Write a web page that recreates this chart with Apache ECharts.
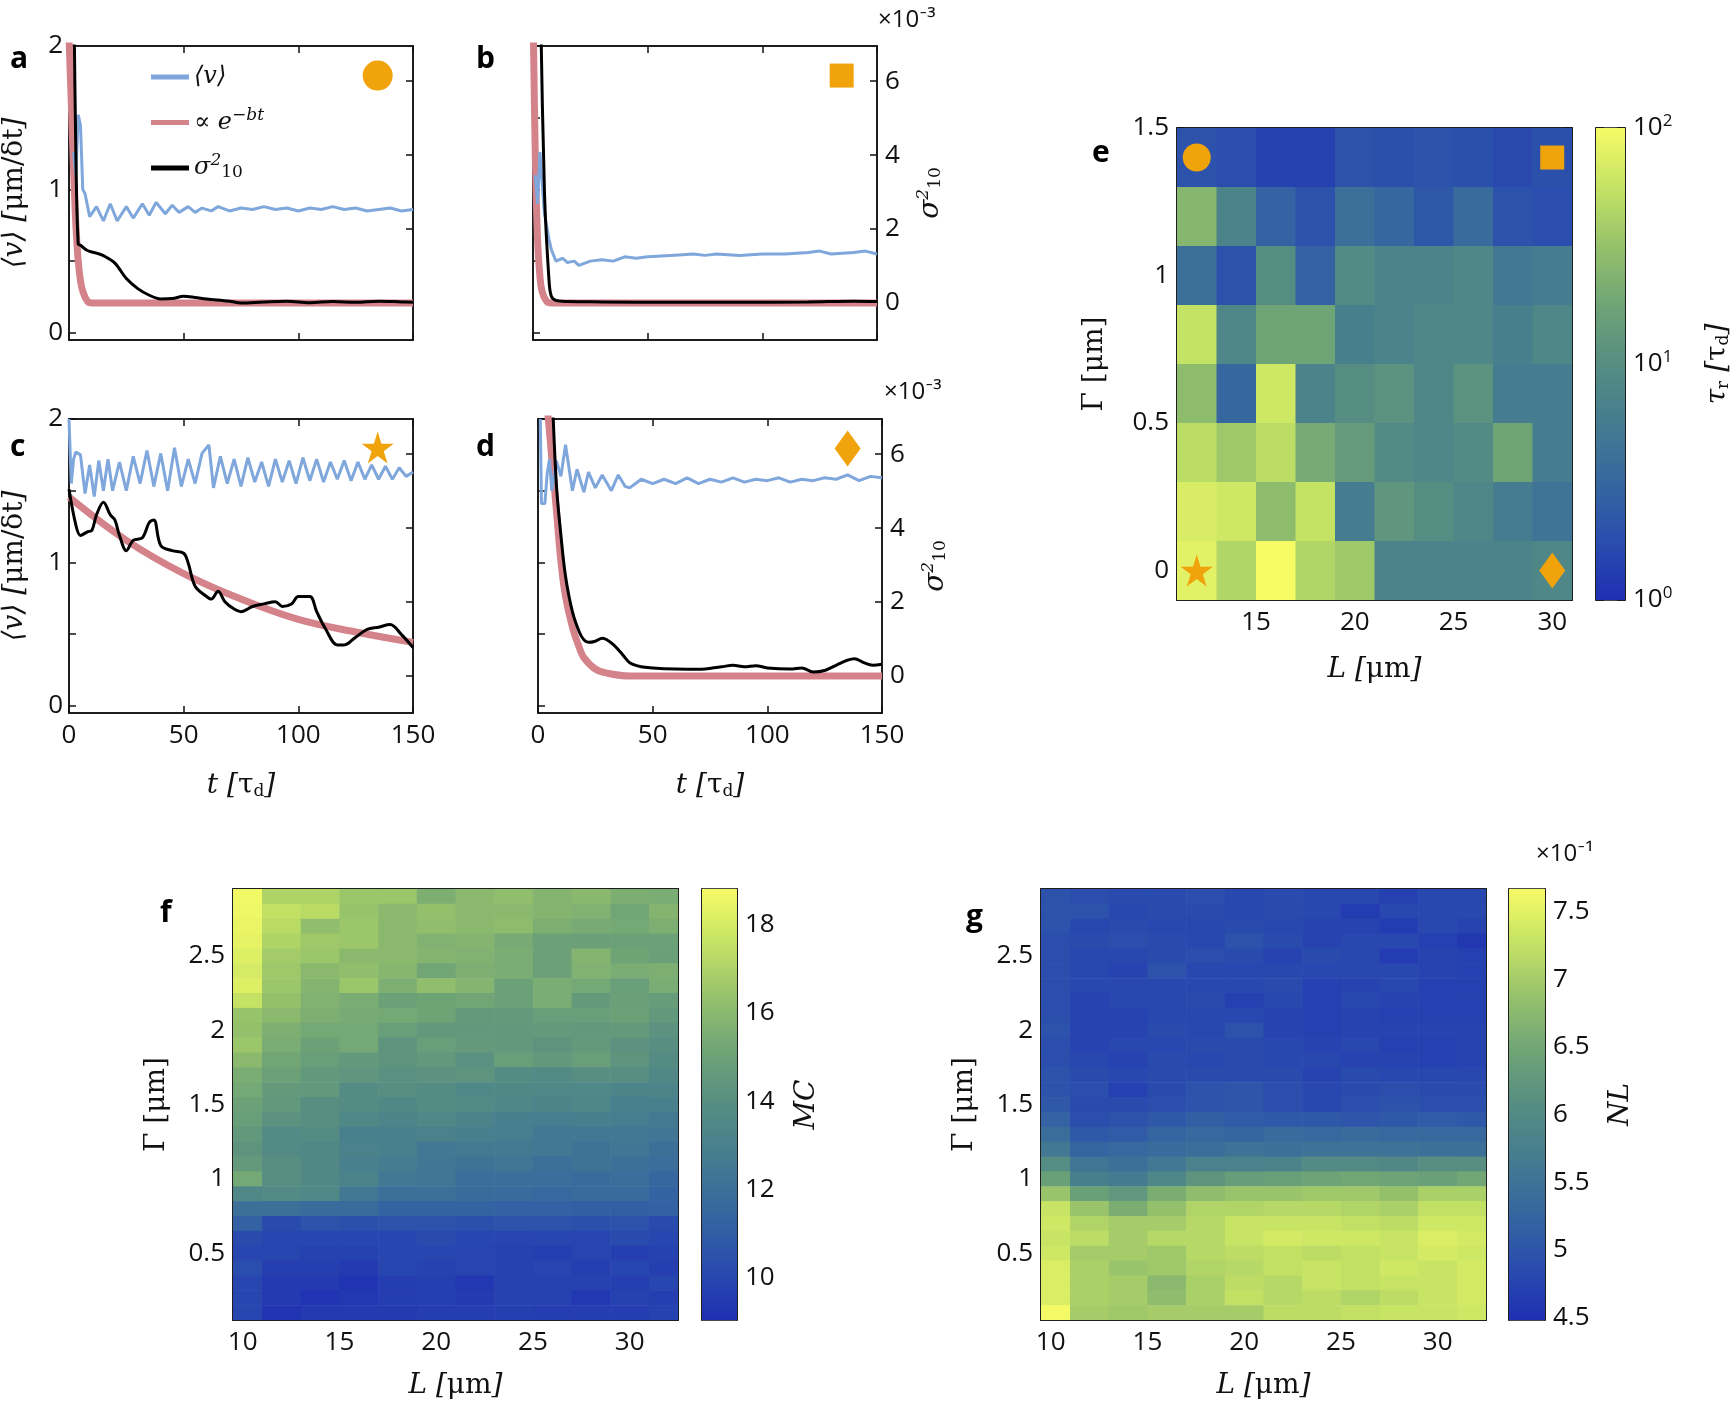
<!DOCTYPE html>
<html><head><meta charset="utf-8">
<script src="https://cdn.jsdelivr.net/npm/echarts@6/dist/echarts.min.js"></script>
<style>html,body{margin:0;padding:0;background:#fff}#c{width:1733px;height:1402px}</style>
</head><body><div id="c"></div>
<script>
// ---------- DATA ----------
const blueA=[[2,1.26],[3,1.1],[4,1.52],[5,1.45],[6,1.0],[7,0.97],[9,0.81],[12,0.88],[15,0.78],[18,0.9],[21,0.78],[25,0.88],[28,0.8],[32,0.9],[35,0.82],[38,0.91],[42,0.83],[45,0.89],[48,0.84],[52,0.88],[55,0.84],[58,0.87],[62,0.85],[65,0.88],[70,0.85],[75,0.87],[80,0.86],[85,0.88],[90,0.86],[95,0.87],[100,0.85],[105,0.87],[110,0.86],[115,0.88],[120,0.86],[125,0.87],[130,0.85],[135,0.86],[140,0.87],[145,0.85],[150,0.86]];
const blackA=[[2,9],[3,4],[4,1.6],[5,1.56],[8,1.42],[12,1.35],[15,1.28],[20,1.08],[25,0.66],[30,0.39],[35,0.21],[40,0.11],[45,0.12],[50,0.18],[55,0.15],[60,0.11],[70,0.05],[75,0.0],[85,0.03],[95,0.05],[105,0.01],[115,0.04],[125,0.02],[135,0.05],[145,0.03],[150,0.02]];
const pinkA=[[0,7.2],[1,5.4],[2,3.6],[3,2.1],[4,1.15],[5,0.6],[6,0.32],[8,0.05],[10,0],[150,0]];
const blueB=[[1,1.1],[2,0.9],[3,1.26],[5,0.83],[7,0.65],[8,0.58],[10,0.5],[13,0.52],[15,0.49],[18,0.5],[20,0.47],[25,0.5],[30,0.51],[35,0.5],[40,0.53],[45,0.52],[50,0.53],[60,0.54],[70,0.55],[75,0.54],[80,0.55],[90,0.54],[100,0.55],[110,0.55],[120,0.56],[125,0.57],[130,0.55],[140,0.56],[145,0.57],[150,0.55]];
const blackB=[[3,9],[5,3],[7,0.6],[8,0.18],[10,0.07],[15,0.04],[30,0.03],[60,0.02],[90,0.02],[120,0.03],[140,0.05],[150,0.04]];
const pinkB=[[0,8],[1,4.0],[2,1.7],[3,0.73],[4,0.3],[6,0.04],[8,0],[150,0]];
const blueC=[[0,2.0],[1,1.55],[2,1.72],[3,1.77],[5,1.75],[7,1.48],[9,1.68],[11,1.46],[13,1.71],[15,1.5],[17,1.72],[19,1.5],[22,1.7],[25,1.5],[28,1.74],[31,1.55],[34,1.78],[37,1.53],[40,1.76],[43,1.5],[46,1.8],[49,1.53],[52,1.72],[55,1.55],[58,1.76],[61,1.82],[63,1.52],[66,1.74],[69,1.55],[72,1.72],[75,1.53],[78,1.73],[81,1.56],[84,1.7],[87,1.53],[90,1.72],[93,1.56],[96,1.71],[99,1.55],[102,1.73],[105,1.57],[108,1.72],[111,1.56],[114,1.7],[117,1.58],[120,1.71],[123,1.57],[126,1.7],[129,1.58],[132,1.68],[135,1.58],[138,1.67],[141,1.58],[144,1.66],[147,1.6],[150,1.63]];
const blackC=[[0,5.05],[3,4.08],[5,3.8],[8,3.9],[10,3.94],[12,4.36],[15,4.7],[18,4.36],[20,4.22],[22,3.8],[25,3.39],[28,3.67],[32,3.74],[35,4.15],[37,4.22],[40,3.53],[45,3.39],[50,3.32],[52,3.05],[55,2.43],[60,2.15],[62,2.08],[65,2.29],[68,2.01],[72,1.81],[75,1.74],[80,1.88],[85,1.95],[90,2.01],[93,1.88],[97,1.95],[100,2.15],[105,2.15],[108,1.74],[112,1.26],[117,0.84],[120,0.84],[125,1.05],[130,1.26],[135,1.32],[140,1.39],[145,1.12],[150,0.77]];
const pinkC=[[0,4.84],[25,3.67],[50,2.77],[75,2.08],[100,1.53],[125,1.19],[150,0.91]];
const blueD=[[1,2.0],[1.5,1.41],[3,1.41],[4,1.62],[5,1.72],[6,1.5],[8,1.71],[10,1.6],[12,1.82],[15,1.5],[17,1.65],[20,1.49],[22,1.63],[25,1.52],[28,1.61],[32,1.5],[35,1.61],[38,1.53],[40,1.52],[45,1.58],[50,1.55],[55,1.58],[60,1.55],[65,1.59],[70,1.55],[75,1.58],[80,1.56],[85,1.59],[90,1.56],[95,1.58],[100,1.57],[105,1.59],[110,1.56],[115,1.58],[120,1.57],[125,1.59],[130,1.58],[135,1.61],[140,1.57],[145,1.6],[150,1.59]];
const blackD=[[6,8],[8,5.19],[10,3.8],[12,2.7],[15,1.74],[18,1.19],[20,0.98],[22,0.91],[25,0.94],[28,1.02],[30,0.98],[33,0.84],[37,0.57],[40,0.36],[45,0.25],[50,0.22],[60,0.19],[70,0.18],[80,0.25],[85,0.29],[90,0.25],[95,0.28],[100,0.22],[110,0.19],[115,0.22],[120,0.11],[125,0.15],[130,0.29],[135,0.43],[138,0.47],[142,0.36],[146,0.29],[150,0.32]];
const pinkD=[[3,8],[5,6.6],[8,4.5],[10,3.1],[12,2.15],[15,1.32],[18,0.77],[20,0.5],[25,0.19],[30,0.08],[40,0],[150,0]];
const markA=[[134.6,6.15]], markB=[[134.6,6.15]], markC=[[134.6,6.18]], markD=[[135,6.15]];
const tTicks=[0,50,100,150], vTicks=[0,1,2], vMinor=[0,0.5,1,1.5,2], sTicks=[0,2,4,6];

// panel e: tau_r (log10) per row, rows Gamma 1.4 .. 0.0, columns L 12..30
const eL=[12,14,16,18,20,22,24,26,28,30];
const eG=[1.4,1.2,1.0,0.8,0.6,0.4,0.2,0.0];
const eVals=[
[0.3,0.25,0.15,0.15,0.3,0.28,0.3,0.28,0.22,0.28],
[1.4,0.85,0.45,0.3,0.6,0.5,0.35,0.55,0.3,0.25],
[0.6,0.3,1.0,0.45,0.95,0.85,0.85,0.9,0.7,0.75],
[1.75,0.9,1.25,1.25,0.8,0.85,0.9,0.9,0.8,0.9],
[1.45,0.5,1.8,0.85,1.0,1.05,0.9,1.05,0.75,0.75],
[1.7,1.55,1.7,1.3,1.15,0.95,0.9,0.95,1.25,0.75],
[1.85,1.8,1.45,1.75,0.75,1.1,1.0,0.9,0.75,0.65],
[1.9,1.65,2.0,1.65,1.55,0.85,0.85,0.85,0.85,0.9]];
const eMarks=[[12,1.4],[30,1.4],[12,0],[30,0]];

// panels f,g: rows Gamma 2.9 .. 0.1, columns L 10..32
const fgL=[10,12,14,16,18,20,22,24,26,28,30,32];
const fgG=[2.9,2.8,2.7,2.6,2.5,2.4,2.3,2.2,2.1,2.0,1.9,1.8,1.7,1.6,1.5,1.4,1.3,1.2,1.1,1.0,0.9,0.8,0.7,0.6,0.5,0.4,0.3,0.2,0.1];
const fVals=[
[18.7,17,17,16.5,16.5,15.6,16,16.2,15.8,16,15.6,15.5],
[18.6,17.5,17.3,16.4,16.0,16.3,16.0,16.0,15.8,15.7,15.2,15.8],
[18.5,17.3,16.2,16.5,16.0,16.2,16.0,16.1,15.6,15.4,15.3,15.6],
[18.4,17.0,16.6,16.5,16.0,15.7,15.8,15.4,15.0,14.9,15.0,15.0],
[18.2,16.7,16.5,16.0,16.0,15.8,15.7,15.5,15.0,15.8,15.1,14.9],
[18.0,16.6,16.0,16.2,15.9,15.2,15.6,15.5,15.0,15.7,15.5,15.6],
[18.2,16.5,15.8,16.5,15.6,16.2,15.8,15.0,15.5,15.3,14.8,15.5],
[17.6,16.3,15.7,15.5,15.0,15.1,15.2,15.0,15.5,14.6,14.9,14.7],
[16.4,16.0,15.6,15.4,15.3,15.1,14.6,14.6,14.8,14.8,15.0,14.5],
[16.3,15.6,15.3,15.3,14.8,14.5,14.5,14.5,14.6,14.5,14.6,14.2],
[16.5,15.5,15.0,15.3,14.3,14.8,14.6,14.5,14.3,14.6,14.2,14.0],
[16.0,15.2,14.8,14.5,14.3,14.5,14.1,14.8,14.5,14.8,14.3,13.8],
[15.5,15.0,14.5,14.4,14.1,14.2,14.3,13.8,13.7,14.0,14.0,13.6],
[15.3,14.6,14.5,13.8,14.0,13.8,13.5,13.6,13.5,13.5,13.3,13.3],
[15.0,14.5,14.0,13.8,13.6,13.8,13.7,13.4,13.3,13.4,13.0,13.0],
[14.8,14.2,14.0,13.5,13.3,13.5,13.2,12.9,12.8,12.9,12.8,12.6],
[14.5,13.7,13.8,13.0,13.0,13.1,12.9,12.8,12.5,12.5,12.5,12.4],
[14.3,13.7,13.6,13.1,13.0,12.5,12.6,12.6,12.5,12.2,12.4,12.0],
[14.6,14.0,13.6,13.0,12.7,12.4,12.2,12.3,12.0,12.2,12.0,11.9],
[15.3,14.0,13.6,13.2,12.5,12.4,11.9,11.9,11.9,11.7,11.9,11.5],
[13.5,13.7,13.5,12.5,12.0,12.0,11.8,11.7,11.6,11.7,11.7,11.3],
[12.0,12.0,11.8,11.8,11.3,11.3,11.3,11.2,11.2,11.1,11.1,11.2],
[11.2,10.2,10.6,10.4,10.5,10.5,10.4,10.6,10.5,10.4,10.5,10.2],
[10.2,10.0,10.0,10.0,10.0,10.2,10.0,9.9,10.0,9.9,10.2,10.0],
[10.0,10.0,9.8,9.8,10.0,10.0,9.9,9.8,9.7,9.9,9.7,9.8],
[10.3,9.7,9.7,9.5,10.0,9.8,9.9,9.8,9.9,9.7,10.0,9.7],
[10.0,9.5,9.5,9.3,9.6,9.7,9.4,9.8,9.8,9.8,9.7,10.0],
[10.0,9.5,9.2,9.4,9.6,9.7,9.5,9.8,9.8,9.4,9.8,9.7],
[10.0,9.3,9.5,9.5,9.5,9.6,9.6,9.7,9.6,9.6,9.6,9.8]];
const gVals=[
[4.95,4.9,4.85,4.85,4.9,4.8,4.85,4.8,4.8,4.7,4.8,4.8],
[4.95,4.95,4.8,4.85,4.85,4.8,4.85,4.8,4.65,4.8,4.8,4.8],
[4.95,4.8,4.85,4.8,4.8,4.85,4.8,4.75,4.75,4.65,4.8,4.75],
[4.9,4.85,4.9,4.85,4.8,4.95,4.85,4.75,4.8,4.8,4.7,4.6],
[4.9,4.8,4.8,4.85,4.9,4.85,4.75,4.85,4.8,4.65,4.75,4.7],
[4.9,4.8,4.75,4.95,4.8,4.8,4.8,4.8,4.8,4.8,4.75,4.7],
[4.9,4.8,4.8,4.8,4.8,4.8,4.85,4.7,4.75,4.8,4.7,4.7],
[4.9,4.75,4.8,4.8,4.85,4.7,4.8,4.7,4.8,4.75,4.7,4.7],
[4.9,4.75,4.75,4.8,4.8,4.8,4.75,4.7,4.75,4.7,4.7,4.7],
[4.95,4.75,4.75,4.85,4.8,4.95,4.75,4.7,4.75,4.75,4.75,4.75],
[4.9,4.75,4.8,4.8,4.85,4.85,4.8,4.75,4.8,4.7,4.7,4.75],
[4.9,4.8,4.75,4.85,4.8,4.85,4.8,4.8,4.75,4.75,4.7,4.75],
[4.95,4.85,4.8,4.85,4.85,4.85,4.85,4.75,4.85,4.8,4.8,4.8],
[4.95,4.9,4.7,4.85,4.95,5.0,4.9,4.8,4.85,4.9,4.85,4.85],
[5.05,4.85,4.85,4.9,4.95,5.0,4.9,4.8,4.9,4.95,4.9,4.9],
[5.2,4.9,4.95,5.05,5.15,5.1,5.05,5.05,5.0,5.05,5.1,5.05],
[5.4,5.05,5.1,5.25,5.3,5.25,5.35,5.3,5.35,5.3,5.3,5.3],
[5.6,5.25,5.3,5.35,5.4,5.5,5.45,5.5,5.5,5.5,5.45,5.45],
[6.05,5.55,5.45,5.6,5.8,5.8,5.85,6.0,6.0,5.95,6.1,6.1],
[6.4,5.75,5.65,5.9,6.2,6.35,6.4,6.45,6.5,6.45,6.4,6.5],
[6.9,6.4,6.25,6.6,6.8,6.9,6.9,6.95,6.95,6.85,7.05,7.05],
[7.3,6.9,6.6,6.85,7.1,7.1,7.15,7.15,7.1,7.05,7.25,7.25],
[7.35,7.1,7.0,7.0,7.15,7.3,7.3,7.3,7.25,7.2,7.35,7.35],
[7.3,7.2,7.0,7.15,7.15,7.3,7.4,7.35,7.35,7.3,7.45,7.4],
[7.35,7.0,7.0,6.95,7.15,7.2,7.25,7.2,7.25,7.3,7.4,7.35],
[7.45,7.05,6.9,6.95,7.1,7.15,7.25,7.3,7.25,7.35,7.3,7.4],
[7.45,7.05,7.0,6.75,7.05,7.2,7.15,7.3,7.25,7.3,7.3,7.4],
[7.45,7.05,7.0,6.8,7.05,7.25,7.15,7.2,7.1,7.2,7.3,7.4],
[7.65,7.0,6.95,7.0,7.0,7.0,7.2,7.2,7.25,7.3,7.3,7.35]];
const eCb=[0,2], eCbTicks=[0,1,2];
const fCb=[9.05,18.8], fCbTicks=[10,12,14,16,18];
const gCb=[4.48,7.67], gCbTicks=[4.5,5,5.5,6,6.5,7,7.5];
const eXTicks=[15,20,25,30], eYTicks=[0,0.5,1,1.5];
const fgXTicks=[10,15,20,25,30], fgYTicks=[0.5,1,1.5,2,2.5];

// ---------- STYLE ----------
const cmap=['#1f2fb3','#2a4dae','#36679f','#457c90','#568d82','#6fa476','#96c26b','#c4e264','#f6fb66'];
const SANS='"Open Sans", Lato, sans-serif', SERIF='"DejaVu Serif", "Liberation Serif", serif';
const ORANGE='#f0a30a', BLUE='#7fa7dc', PINK='#d5838a';
const STAR='path://M50,0 L61.8,36.2 L100,36.2 L69.1,58.8 L80.9,95.1 L50,72.6 L19.1,95.1 L30.9,58.8 L0,36.2 L38.2,36.2 Z';
const lab={color:'#111',fontFamily:SANS,fontSize:26};
const nameSt={fontFamily:SERIF,fontStyle:'italic',fontSize:28,color:'#111',
  rich:{s:{fontFamily:SERIF,fontStyle:'italic',fontSize:17,verticalAlign:'bottom',padding:[0,0,14,0]},
        d:{fontFamily:SERIF,fontStyle:'normal',fontSize:17,verticalAlign:'top',padding:[12,0,0,0]},
        n:{fontFamily:SERIF,fontSize:28,fontStyle:'normal'}}};
const grids=[], xAxes=[], yAxes=[], series=[], visualMaps=[];
function tick(vals,len){return {show:true,inside:true,length:len||7,customValues:vals,lineStyle:{color:'#111',width:1.5}};}
function axLine(){return {show:true,onZero:false,lineStyle:{color:'#111',width:1.5}};}
function addGrid(l,t,w,h){grids.push({left:l,top:t,width:w,height:h,show:true,borderColor:'#111',borderWidth:1.5,backgroundColor:'transparent'});return grids.length-1;}

function linePanel(g, blue, black, pink, mark, sym, symSize, showL, showR, showX){
  const gi=addGrid(g[0],g[1],g[2],g[3]);
  const xi=xAxes.length;
  xAxes.push({type:'value',gridIndex:gi,min:0,max:150,axisLine:axLine(),axisTick:tick(tTicks),splitLine:{show:false},
    axisLabel:{show:showX,customValues:tTicks,...lab,margin:10},
    name:showX?'t [{n|τ}{d|d}]':'',nameLocation:'middle',nameGap:58,nameTextStyle:nameSt});
  xAxes.push({type:'value',gridIndex:gi,position:'top',min:0,max:150,axisLine:axLine(),axisTick:tick(tTicks),axisLabel:{show:false},splitLine:{show:false}});
  const yl=yAxes.length;
  yAxes.push({type:'value',gridIndex:gi,min:-0.05,max:2,axisLine:axLine(),axisTick:tick(vMinor),splitLine:{show:false},
    axisLabel:{show:showL,customValues:vTicks,...lab,margin:6},
    name:showL?'⟨v⟩ [{n|μm/δt}]':'',nameLocation:'middle',nameGap:40,nameTextStyle:nameSt});
  const yr=yAxes.length;
  yAxes.push({type:'value',gridIndex:gi,position:'right',min:-1,max:6.95,axisLine:axLine(),axisTick:tick(sTicks),splitLine:{show:false},
    axisLabel:{show:showR,customValues:sTicks,...lab,margin:8},
    name:showR?'σ{s|2}{d|10}':'',nameLocation:'middle',nameGap:38,nameTextStyle:nameSt});
  series.push({type:'line',name:'v',xAxisIndex:xi,yAxisIndex:yl,data:blue,symbol:'none',lineStyle:{color:BLUE,width:3},itemStyle:{color:BLUE},z:3});
  series.push({type:'line',name:'p',xAxisIndex:xi,yAxisIndex:yr,data:pink,symbol:'none',smooth:0.4,lineStyle:{color:PINK,width:7},itemStyle:{color:PINK},z:2});
  series.push({type:'line',name:'s',xAxisIndex:xi,yAxisIndex:yr,data:black,symbol:'none',smooth:0.35,lineStyle:{color:'#000',width:3},itemStyle:{color:'#000'},z:4});
  series.push({type:'scatter',xAxisIndex:xi,yAxisIndex:yr,data:mark,symbol:sym,symbolSize:symSize,itemStyle:{color:ORANGE,opacity:1},z:5});
}
linePanel([69,46,344,294],blueA,blackA,pinkA,markA,'circle',30,true,false,false);
linePanel([533,46,344,294],blueB,blackB,pinkB,markB,'rect',24,false,true,false);
linePanel([69,419,344,294],blueC,blackC,pinkC,markC,STAR,32,true,false,true);
linePanel([538,419,344,294],blueD,blackD,pinkD,markD,'diamond',[26,36],false,true,true);

function toCells(L,G,V){const out=[];G.forEach((g,r)=>L.forEach((l,c)=>out.push([l,g,V[r][c]])));return out;}
function cellRender(dx,dy){return function(params,api){
  const x=api.value(0),y=api.value(1);
  const p=api.coord([x-dx/2,y+dy/2]); const s=api.size([dx,dy]);
  const cs=params.coordSys;
  const r=echarts.graphic.clipRectByRect({x:p[0],y:p[1],width:s[0]+0.6,height:s[1]+0.6},{x:cs.x,y:cs.y,width:cs.width,height:cs.height});
  if(!r) return; return {type:'rect',shape:r,style:{fill:api.visual('color')}};
};}
function heatPanel(g,xr,yr,xt,yt,cells,dx,dy,cb,cbT,cbG,cbFmt,cbName,cbGap,yGap,xGap){
  const gi=addGrid(g[0],g[1],g[2],g[3]);
  const xi=xAxes.length;
  xAxes.push({type:'value',gridIndex:gi,min:xr[0],max:xr[1],axisLine:axLine(),axisTick:tick(xt),splitLine:{show:false},
    axisLabel:{customValues:xt,...lab,margin:10},name:'L [{n|μm}]',nameLocation:'middle',nameGap:xGap,nameTextStyle:nameSt});
  xAxes.push({type:'value',gridIndex:gi,position:'top',min:xr[0],max:xr[1],axisLine:axLine(),axisTick:tick(xt),axisLabel:{show:false},splitLine:{show:false}});
  const yi=yAxes.length;
  yAxes.push({type:'value',gridIndex:gi,min:yr[0],max:yr[1],axisLine:axLine(),axisTick:tick(yt),splitLine:{show:false},
    axisLabel:{customValues:yt,...lab,margin:8},name:'Γ [{n|μm}]',nameLocation:'middle',nameGap:yGap,nameTextStyle:{...nameSt,fontStyle:'normal'}});
  yAxes.push({type:'value',gridIndex:gi,position:'right',min:yr[0],max:yr[1],axisLine:axLine(),axisTick:tick(yt),axisLabel:{show:false},splitLine:{show:false}});
  const si=series.length;
  series.push({type:'custom',xAxisIndex:xi,yAxisIndex:yi,data:cells,encode:{x:0,y:1},renderItem:cellRender(dx,dy),z:1});
  visualMaps.push({type:'continuous',show:false,seriesIndex:si,dimension:2,min:cb[0],max:cb[1],inRange:{color:cmap}});
  const ci=addGrid(cbG[0],cbG[1],cbG[2],cbG[3]);
  const cx=xAxes.length;
  xAxes.push({type:'value',gridIndex:ci,min:0,max:1,show:false});
  const cy=yAxes.length;
  yAxes.push({type:'value',gridIndex:ci,position:'right',min:cb[0],max:cb[1],axisLine:axLine(),axisTick:tick(cbT,8),splitLine:{show:false},
    axisLabel:{customValues:cbT,...lab,margin:8,formatter:cbFmt,rich:{e:{fontFamily:SANS,fontSize:17,verticalAlign:'bottom',padding:[0,0,14,0]},b:{fontFamily:SANS,fontSize:26}}},
    name:cbName,nameLocation:'middle',nameGap:cbGap,nameTextStyle:nameSt});
  yAxes.push({type:'value',gridIndex:ci,position:'left',min:cb[0],max:cb[1],axisLine:axLine(),axisTick:tick(cbT,8),axisLabel:{show:false},splitLine:{show:false}});
  series.push({type:'custom',xAxisIndex:cx,yAxisIndex:cy,data:[[0,cb[0]]],renderItem:function(params,api){
    const p0=api.coord([0,cb[1]]),p1=api.coord([1,cb[0]]);
    return {type:'rect',shape:{x:p0[0],y:p0[1],width:p1[0]-p0[0],height:p1[1]-p0[1]},
      style:{fill:new echarts.graphic.LinearGradient(0,1,0,0,cmap.map((c,i)=>({offset:i/(cmap.length-1),color:c})))}};
  }});
  return {xi,yi};
}
const eAx=heatPanel([1177,128,395,472],[11,31],[-0.1,1.5],eXTicks,eYTicks,toCells(eL,eG,eVals),2,0.2,eCb,eCbTicks,[1596,128,38,472],
  v=>'{b|10}{e|'+Math.round(v)+'}','τ{d|r} [{n|τ}{d|d}]',78,68,56);
series.push({type:'scatter',xAxisIndex:eAx.xi,yAxisIndex:eAx.yi,data:[eMarks[0]],symbol:'circle',symbolSize:28,itemStyle:{color:ORANGE,opacity:1},z:5});
series.push({type:'scatter',xAxisIndex:eAx.xi,yAxisIndex:eAx.yi,data:[eMarks[1]],symbol:'rect',symbolSize:24,itemStyle:{color:ORANGE,opacity:1},z:5});
series.push({type:'scatter',xAxisIndex:eAx.xi,yAxisIndex:eAx.yi,data:[eMarks[2]],symbol:STAR,symbolSize:32,itemStyle:{color:ORANGE,opacity:1},z:5});
series.push({type:'scatter',xAxisIndex:eAx.xi,yAxisIndex:eAx.yi,data:[eMarks[3]],symbol:'diamond',symbolSize:[26,36],itemStyle:{color:ORANGE,opacity:1},z:5});
heatPanel([233,889,445,431],[9.5,32.5],[0.05,2.95],fgXTicks,fgYTicks,toCells(fgL,fgG,fVals),2,0.1,fCb,fCbTicks,[702,889,35,431],
  v=>'{b|'+v+'}','MC',56,62,52);
heatPanel([1041,889,445,431],[9.5,32.5],[0.05,2.95],fgXTicks,fgYTicks,toCells(fgL,fgG,gVals),2,0.1,gCb,gCbTicks,[1509,889,36,431],
  v=>'{b|'+v+'}','NL',62,62,52);

const letter=(t,x,y)=>({type:'text',left:x,top:y,style:{text:t,font:'bold 30px '+SANS,fill:'#000'}});
const small=(t,x,y)=>({type:'text',left:x,top:y,style:{text:t,font:'24px '+SANS,fill:'#111'}});
const chart=echarts.init(document.getElementById('c'),null,{renderer:'canvas'});
chart.setOption({
  animation:false,
  grid:grids, xAxis:xAxes, yAxis:yAxes, series:series, visualMap:visualMaps,
  legend:{show:true,data:[{name:'v',icon:'rect'},{name:'p',icon:'rect'},{name:'s',icon:'rect'}],left:146,top:60,orient:'vertical',itemWidth:38,itemHeight:5,itemGap:18,
    formatter:n=>({v:'⟨v⟩',p:'{n|∝} e{s|−bt}',s:'σ{s|2}{d|10}'})[n],
    textStyle:{...nameSt,fontSize:24,rich:{...nameSt.rich,n:{fontFamily:SERIF,fontSize:24,fontStyle:'normal'}}}},
  graphic:[letter('a',10,44),letter('b',476,44),letter('c',10,432),letter('d',476,432),letter('e',1092,138),letter('f',160,898),letter('g',966,902),
    small('×10⁻³',878,8),small('×10⁻³',884,380),small('×10⁻¹',1536,842)]
});
</script></body></html>
